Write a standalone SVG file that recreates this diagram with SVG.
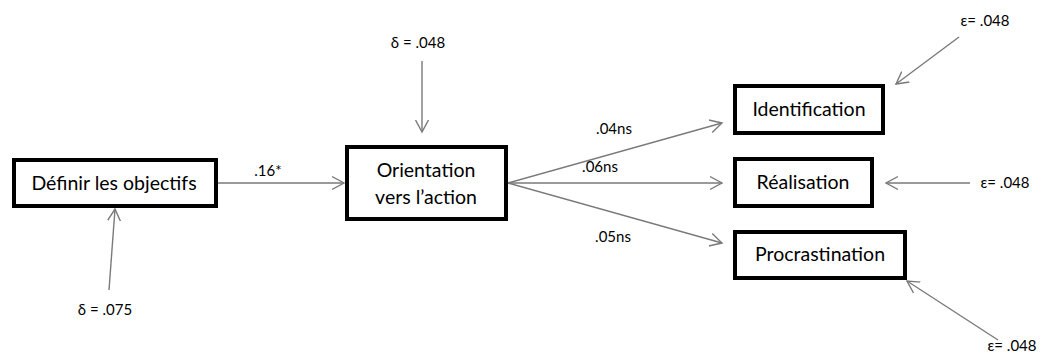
<svg xmlns="http://www.w3.org/2000/svg" width="1044" height="354" viewBox="0 0 1044 354">
<style>
.box{fill:#fff;stroke:#000;stroke-width:4}
.nt{font-family:Lato,"Open Sans","Liberation Sans",sans-serif;font-size:19.5px;fill:#000;text-anchor:middle}
.lb{font-family:Lato,"Open Sans","Liberation Sans",sans-serif;font-size:15px;fill:#000;text-anchor:middle}
.cn{stroke:#7a7a7a;stroke-width:1.4;fill:none;marker-end:url(#ah)}
</style>
<defs>
<marker id="ah" markerUnits="userSpaceOnUse" markerWidth="14" markerHeight="16" refX="12" refY="7" orient="auto" viewBox="0 0 14 14">
<path d="M0,0.5 L12,7 L0,13.5" fill="none" stroke="#7a7a7a" stroke-width="1.4"/>
</marker>
</defs>
<g id="connectors">
<line class="cn" x1="218" y1="183" x2="344" y2="183"/>
<line class="cn" x1="109" y1="290" x2="115" y2="209"/>
<line class="cn" x1="422" y1="61" x2="422" y2="132"/>
<line class="cn" x1="508" y1="183" x2="722" y2="123"/>
<line class="cn" x1="508" y1="183" x2="722" y2="183"/>
<line class="cn" x1="508" y1="183" x2="722" y2="243"/>
<line class="cn" x1="959" y1="37" x2="896" y2="84"/>
<line class="cn" x1="970" y1="183" x2="886" y2="183"/>
<line class="cn" x1="998" y1="340" x2="907" y2="281"/>
<text class="lb" x="268" y="176">.16*</text>
<text class="lb" x="614" y="134">.04ns</text>
<text class="lb" x="600" y="172">.06ns</text>
<text class="lb" x="613" y="242">.05ns</text>
<text class="lb" x="418" y="48">δ = .048</text>
<text class="lb" x="105" y="315">δ = .075</text>
<text class="lb" x="985" y="26">ε= .048</text>
<text class="lb" x="1005" y="188">ε= .048</text>
<text class="lb" x="1012" y="351">ε= .048</text>
</g>
<g id="n1"><rect class="box" x="14" y="160" width="202" height="46"/><text class="nt" x="114" y="190">Définir les objectifs</text></g>
<g id="n2"><rect class="box" x="347" y="147" width="159" height="72"/><text class="nt" x="426" y="177">Orientation</text><text class="nt" x="426" y="204">vers l’action</text></g>
<g id="n3"><rect class="box" x="735" y="86" width="148" height="47"/><text class="nt" x="809" y="116">Identification</text></g>
<g id="n4"><rect class="box" x="735" y="159" width="137" height="47"/><text class="nt" x="803" y="189">Réalisation</text></g>
<g id="n5"><rect class="box" x="735" y="232" width="170" height="46"/><text class="nt" x="820" y="261">Procrastination</text></g>
</svg>
